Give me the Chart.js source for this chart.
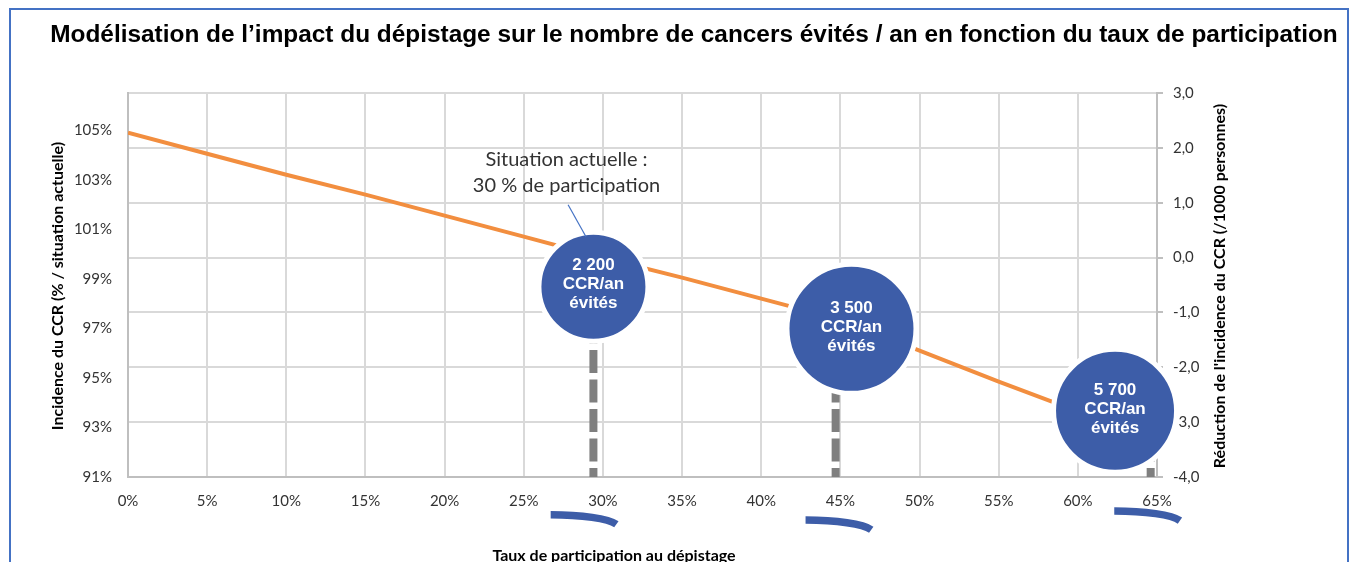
<!DOCTYPE html>
<html><head><meta charset="utf-8">
<script src="https://cdn.jsdelivr.net/npm/chart.js@4.4.1/dist/chart.umd.min.js"></script>
<style>html,body{margin:0;padding:0;background:#fff;overflow:hidden}#wrap{width:1357px;height:562px;position:relative}</style>
</head><body><div id="wrap"><canvas id="c" width="1357" height="562"></canvas></div>
<script>
// ---- data ----
const participation = [0, 5, 10, 15, 20, 25, 30, 35, 40, 45, 50, 55, 60, 65];
const incidence = [104.9, 104.05, 103.2, 102.4, 101.55, 100.7, 99.85, 99.05, 98.2, 97.35, 96.1, 94.85, 93.65, 92.45];
const bubbleX = [29.4, 45.7, 62.35];
const bubbleY = [98.68, 96.98, 93.67];
const bubbleR = [52, 62, 59];
const bubbleCounts = ['2 200', '3 500', '5 700'];
const bubbleLines = ['CCR/an', 'évités'];
const dashX = [29.4, 44.7, 64.6];
const xTicks = [0, 5, 10, 15, 20, 25, 30, 35, 40, 45, 50, 55, 60, 65];
const leftTicks = [91, 93, 95, 97, 99, 101, 103, 105];
const rightTicks = [-4, -3, -2, -1, 0, 1, 2, 3];
const rightTickLabels = ['-4,0', '-3,0', '-2,0', '-1,0', '0,0', '1,0', '2,0', '3,0'];
const arcStartX = [26.7, 42.8, 62.3];
const arcY = [89.48, 89.26, 89.63];
const annotationLines = ['Situation actuelle :', '30 % de participation'];
const annotationX = 27.7;
const annotationY = [103.8, 102.75];
const leaderX = [27.8, 28.93];
const leaderY = [101.99, 100.7];
const titleText = 'Modélisation de l\u2019impact du dépistage sur le nombre de cancers évités / an en fonction du taux de participation';
const xTitle = 'Taux de participation au dépistage';
const yTitle = 'Incidence du CCR (% / situation actuelle)';
const y2Title = 'Réduction de l\'incidence du CCR (/1000 personnes)';

const BLUE = '#3D5DA8';
const TXT = '#333333';
const FONT = 'Lato';

const datasets = [];
datasets.push({
  type: 'line', yAxisID: 'y', order: 2,
  data: participation.map((x, i) => ({x, y: incidence[i]})),
  borderColor: '#F28E3F', borderWidth: 4, pointRadius: 0, tension: 0, fill: false
});
dashX.forEach((dx, i) => {
  datasets.push({
    type: 'line', yAxisID: 'y', order: 3,
    data: [{x: dx, y: 91}, {x: dx, y: bubbleY[i]}],
    borderColor: '#7F7F7F', borderWidth: 8, borderDash: [23, 6.5], borderDashOffset: 14,
    pointRadius: 0, fill: false, borderCapStyle: 'butt'
  });
});
datasets.push({
  type: 'bubble', yAxisID: 'y', order: 0, clip: false,
  data: bubbleX.map((x, i) => ({x, y: bubbleY[i], r: bubbleR[i] + 2.5})),
  backgroundColor: BLUE, borderColor: '#ffffff', borderWidth: 5,
  hoverRadius: 0, hoverBorderWidth: 5
});

const deco = {
  id: 'deco',
  beforeDraw(chart) {
    const ctx = chart.ctx;
    ctx.save();
    ctx.fillStyle = '#fff';
    ctx.fillRect(0, 0, chart.width, chart.height);
    ctx.strokeStyle = '#4472C4';
    ctx.lineWidth = 2;
    ctx.strokeRect(10, 9, 1338, 620);
    ctx.restore();
  },
  afterDraw(chart) {
    const ctx = chart.ctx;
    const xs = chart.scales.x, ys = chart.scales.y;
    ctx.save();
    // title
    ctx.fillStyle = '#000';
    ctx.font = 'bold 24.4px "Liberation Sans"';
    ctx.textAlign = 'center';
    ctx.textBaseline = 'middle';
    ctx.fillText(titleText, 694, 35);
    // bubble labels
    const meta = chart.getDatasetMeta(chart.data.datasets.length - 1);
    ctx.fillStyle = '#fff';
    ctx.font = 'bold 17px "Liberation Sans"';
    meta.data.forEach((el, i) => {
      const lines = [bubbleCounts[i]].concat(bubbleLines);
      lines.forEach((t, k) => ctx.fillText(t, el.x, el.y - 21 + k * 19));
    });
    // annotation
    ctx.fillStyle = '#333';
    ctx.font = '20px ' + FONT;
    annotationLines.forEach((t, k) => ctx.fillText(t, xs.getPixelForValue(annotationX), ys.getPixelForValue(annotationY[k])));
    ctx.strokeStyle = '#4472C4';
    ctx.lineWidth = 1.2;
    ctx.beginPath();
    ctx.moveTo(xs.getPixelForValue(leaderX[0]), ys.getPixelForValue(leaderY[0]));
    ctx.lineTo(xs.getPixelForValue(leaderX[1]), ys.getPixelForValue(leaderY[1]));
    ctx.stroke();
    // arcs under axis
    ctx.strokeStyle = BLUE;
    ctx.lineWidth = 7.5;
    ctx.lineCap = 'butt';
    arcStartX.forEach((ax, i) => {
      const sx = xs.getPixelForValue(ax), sy = ys.getPixelForValue(arcY[i]);
      ctx.beginPath();
      ctx.ellipse(sx, sy + 13, 68, 13, 0, -Math.PI / 2, -Math.PI / 12);
      ctx.stroke();
    });
    // axis titles
    ctx.fillStyle = '#000';
    ctx.font = 'bold 16px ' + FONT;
    ctx.fillText(xTitle, 614, 556);
    const cy = (chart.chartArea.top + chart.chartArea.bottom) / 2 + 1;
    ctx.save(); ctx.translate(58, cy); ctx.rotate(-Math.PI / 2); ctx.fillText(yTitle, 0, 0); ctx.restore();
    ctx.save(); ctx.translate(1220, cy); ctx.rotate(-Math.PI / 2); ctx.fillText(y2Title, 0, 0); ctx.restore();
    ctx.restore();
  }
};

new Chart(document.getElementById('c'), {
  data: {datasets},
  plugins: [deco],
  options: {
    responsive: false, animation: false, events: [],
    devicePixelRatio: 1,
    layout: {padding: {top: 93, bottom: 45, left: 0, right: 0}},
    plugins: {legend: {display: false}, tooltip: {enabled: false}, title: {display: false}},
    scales: {
      x: {
        type: 'linear', min: 0, max: 65,
        afterBuildTicks: s => { s.ticks = xTicks.map(v => ({value: v})); },
        afterFit: s => { s.height = 40; },
        ticks: {callback: v => v + '%', font: {family: FONT, size: 15}, color: TXT, padding: 15, maxRotation: 0, autoSkip: false},
        grid: {color: '#D9D9D9', lineWidth: 2, drawTicks: false},
        border: {color: '#BFBFBF', width: 2}
      },
      y: {
        type: 'linear', position: 'left', min: 91, max: 106.5,
        afterBuildTicks: s => { s.ticks = leftTicks.map(v => ({value: v})); },
        afterFit: s => { s.width = 128; },
        ticks: {callback: v => v + '%', font: {family: FONT, size: 15}, color: TXT, padding: 16},
        grid: {display: false, drawTicks: false},
        border: {color: '#BFBFBF', width: 2}
      },
      y2: {
        type: 'linear', position: 'right', min: -4, max: 3,
        afterBuildTicks: s => { s.ticks = rightTicks.map(v => ({value: v})); },
        afterFit: s => { s.width = 200; },
        ticks: {callback: (v, i) => rightTickLabels[i], font: {family: FONT, size: 15}, color: TXT, padding: 10},
        grid: {color: '#D9D9D9', lineWidth: 2, tickLength: 6, tickColor: '#BFBFBF'},
        border: {color: '#BFBFBF', width: 2}
      }
    }
  }
});
</script></body></html>
